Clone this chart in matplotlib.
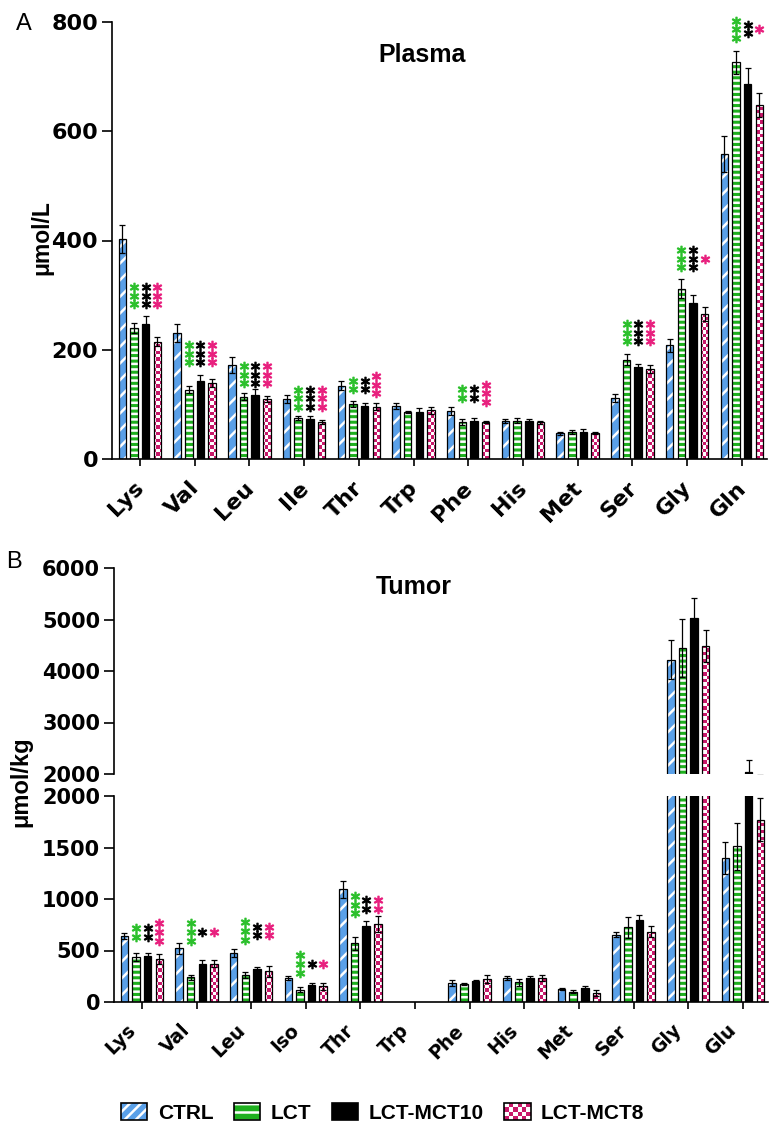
import numpy as np
import matplotlib
matplotlib.use("Agg")
import matplotlib.pyplot as plt
from matplotlib.patches import Rectangle, Patch
from matplotlib.path import Path
from matplotlib.transforms import ScaledTranslation
from matplotlib.legend_handler import HandlerBase

# ---------------- data ----------------
groups = ["CTRL", "LCT", "LCT-MCT10", "LCT-MCT8"]

plasma_aa = ["Lys", "Val", "Leu", "Ile", "Thr", "Trp", "Phe", "His", "Met", "Ser", "Gly", "Gln"]
plasma_ctrl = [403, 231, 172, 110, 134, 97, 88, 70, 47, 112, 208, 558]
plasma_ctrl_err = [26, 17, 14, 8, 8, 6, 7, 4, 3, 7, 12, 33]
plasma_lct = [240, 127, 114, 75, 101, 86, 68, 70, 49, 182, 312, 726]
plasma_lct_err = [9, 6, 6, 3, 6, 2, 5, 5, 4, 10, 18, 21]
plasma_mct10 = [248, 142, 117, 73, 97, 86, 70, 69, 50, 168, 286, 686]
plasma_mct10_err = [13, 12, 12, 6, 6, 7, 5, 4, 5, 6, 14, 30]
plasma_mct8 = [215, 139, 110, 68, 96, 89, 67, 67, 47, 165, 265, 648]
plasma_mct8_err = [9, 7, 5, 4, 6, 6, 2, 3, 2, 7, 13, 22]

plasma_stars_lct = [3, 3, 3, 3, 2, 0, 2, 0, 0, 3, 3, 3]
plasma_stars_mct10 = [3, 3, 3, 3, 2, 0, 2, 0, 0, 3, 3, 2]
plasma_stars_mct8 = [3, 3, 3, 3, 3, 0, 3, 0, 0, 3, 1, 1]
plasma_star_level = [299, 193, 154, 111, 136, 0, 120, 0, 0, 231, 367, 787]

nan = np.nan
tumor_aa = ["Lys", "Val", "Leu", "Iso", "Thr", "Trp", "Phe", "His", "Met", "Ser", "Gly", "Glu"]
tumor_ctrl = [642, 523, 474, 232, 1094, nan, 184, 232, 129, 655, 4223, 1394]
tumor_ctrl_err = [32, 54, 39, 23, 80, nan, 25, 23, 9, 22, 374, 155]
tumor_lct = [435, 238, 258, 119, 571, nan, 174, 190, 100, 726, 4448, 1513]
tumor_lct_err = [39, 26, 29, 26, 64, nan, 13, 32, 12, 103, 569, 229]
tumor_mct10 = [445, 371, 319, 161, 739, nan, 203, 232, 138, 797, 5037, 2045]
tumor_mct10_err = [30, 32, 20, 23, 48, nan, 6, 23, 20, 48, 387, 225]
tumor_mct8 = [416, 371, 300, 151, 758, nan, 222, 232, 87, 684, 4486, 1771]
tumor_mct8_err = [51, 32, 54, 33, 81, nan, 42, 32, 25, 55, 318, 212]

tumor_stars_lct = [2, 3, 3, 3, 3, 0, 0, 0, 0, 0, 0, 0]
tumor_stars_mct10 = [2, 1, 2, 1, 2, 0, 0, 0, 0, 0, 0, 0]
tumor_stars_mct8 = [3, 1, 2, 1, 2, 0, 0, 0, 0, 0, 0, 0]
tumor_star_level = [678, 678, 690, 371, 945, 0, 0, 0, 0, 0, 0, 0]

# ---------------- style ----------------
BLUE = "#5AA0E8"
GREEN = "#1FB01F"
MAGENTA = "#C8186A"
STAR_GREEN = "#2CC02C"
STAR_PINK = "#E8207E"
TICKFONT = "DejaVu Sans"
TEXTFONT = "Liberation Sans"

plt.rcParams["hatch.linewidth"] = 1.8
W, H = 778, 1137
DPI = 100
fig = plt.figure(figsize=(W / DPI, H / DPI), dpi=DPI)


def px_axes(left, top, right, bottom):
    return fig.add_axes([left / W, 1 - bottom / H, (right - left) / W, (bottom - top) / H])


ax_p = px_axes(112, 22, 767, 459)
ax_tu = px_axes(114, 568, 768, 774)
ax_tl = px_axes(114, 796, 768, 1002)

offsets = np.array([-1.5, -0.5, 0.5, 1.5]) * 0.213
BW = 0.137


def checker_image(ax, bars):
    paths = []
    for p in bars.patches:
        if not np.isfinite(p.get_height()):
            continue
        paths.append(p.get_patch_transform().transform_path(p.get_path()))
    if not paths:
        return
    bb = ax.get_position()
    wpx, hpx = bb.width * W, bb.height * H
    cell = 3.4
    nc, nr = int(round(wpx / cell)), int(round(hpx / cell))
    ii, jj = np.meshgrid(np.arange(nc), np.arange(nr))
    mask = (ii + jj) % 2 == 0
    img = np.ones((nr, nc, 3))
    img[mask] = np.array(matplotlib.colors.to_rgb(MAGENTA))
    im = ax.imshow(img, extent=(0, 1, 0, 1), transform=ax.transAxes,
                   interpolation="nearest", aspect="auto", zorder=2)
    im.set_clip_path(Path.make_compound_path(*paths), ax.transData)


def draw_bars(ax, series, errs):
    x = np.arange(len(series[0]))
    specs = [(BLUE, "//"), (GREEN, "---"), ("black", None), (MAGENTA, None)]
    for k, (vals, err) in enumerate(zip(series, errs)):
        xs = x + offsets[k]
        col, hatch = specs[k]
        face = ax.bar(xs, vals, BW, color=col, edgecolor="white", linewidth=0,
                      hatch=hatch, zorder=1.5)
        if k == 3:
            checker_image(ax, face)
        ax.bar(xs, vals, BW, fill=False, edgecolor="black", linewidth=0.9, zorder=3)
        ax.errorbar(xs, vals, yerr=err, fmt="none", ecolor="black", elinewidth=0.9,
                    capsize=2.2, capthick=0.9, zorder=4)


def draw_stars(ax, counts_list, levels, spacing_px=8.4, ms=6.0):
    colors = [STAR_GREEN, "black", STAR_PINK]
    for k, counts in enumerate(counts_list):
        for i, n in enumerate(counts):
            for s in range(n):
                dy = (s - (n - 1) / 2) * spacing_px / DPI
                tr = ax.transData + ScaledTranslation(0, dy, fig.dpi_scale_trans)
                ax.plot([i + offsets[k + 1]], [levels[i]], marker="$*$", ms=ms,
                        color=colors[k], transform=tr, clip_on=False, zorder=5,
                        linestyle="none")


def style_axis(ax, xlabels=None, ylab_size=16, xlab_size=16, shift=(-5, -7)):
    for sp in ["top", "right"]:
        ax.spines[sp].set_visible(False)
    for sp in ["left", "bottom"]:
        ax.spines[sp].set_linewidth(1.2)
    ax.tick_params(axis="y", length=7, width=1.2, direction="out", pad=3)
    ax.tick_params(axis="x", length=5, width=1.2, direction="out")
    for t in ax.get_yticklabels():
        t.set_fontfamily(TICKFONT)
        t.set_fontweight("bold")
        t.set_fontsize(ylab_size)
    ax.set_xlim(-0.51, 11.46)
    if xlabels is not None:
        ax.set_xticks(np.arange(len(xlabels)))
        ax.set_xticklabels(xlabels, rotation=45, ha="right", va="top",
                           rotation_mode="anchor", fontfamily=TICKFONT,
                           fontweight="bold", fontsize=xlab_size)
        for t in ax.get_xticklabels():
            t.set_transform(t.get_transform() + ScaledTranslation(shift[0] / DPI, shift[1] / DPI,
                                                                  fig.dpi_scale_trans))


# ---------------- Plasma ----------------
draw_bars(ax_p, [plasma_ctrl, plasma_lct, plasma_mct10, plasma_mct8],
          [plasma_ctrl_err, plasma_lct_err, plasma_mct10_err, plasma_mct8_err])
draw_stars(ax_p, [plasma_stars_lct, plasma_stars_mct10, plasma_stars_mct8], plasma_star_level)
ax_p.set_ylim(0, 800)
ax_p.set_yticks([0, 200, 400, 600, 800])
style_axis(ax_p, plasma_aa, ylab_size=16, xlab_size=16, shift=(-6, -7))
ax_p.text(0.473, 0.924, "Plasma", transform=ax_p.transAxes, ha="center", va="center",
          fontsize=18, fontweight="bold", fontfamily=TEXTFONT)

# ---------------- Tumor ----------------
tser = [tumor_ctrl, tumor_lct, tumor_mct10, tumor_mct8]
terr = [tumor_ctrl_err, tumor_lct_err, tumor_mct10_err, tumor_mct8_err]
for ax in (ax_tu, ax_tl):
    draw_bars(ax, tser, terr)
draw_stars(ax_tl, [tumor_stars_lct, tumor_stars_mct10, tumor_stars_mct8], tumor_star_level,
           spacing_px=8.8)
ax_tl.set_ylim(0, 2000)
ax_tl.set_yticks([0, 500, 1000, 1500, 2000])
style_axis(ax_tl, tumor_aa, ylab_size=15, xlab_size=13.5, shift=(-16, -7))
ax_tu.set_ylim(2000, 6000)
ax_tu.set_yticks([2000, 3000, 4000, 5000, 6000])
style_axis(ax_tu, None, ylab_size=15)
ax_tu.spines["bottom"].set_visible(False)
ax_tu.set_xticks([])
ax_tu.text(0.459, 0.906, "Tumor", transform=ax_tu.transAxes, ha="center", va="center",
           fontsize=18, fontweight="bold", fontfamily=TEXTFONT)

# ---------------- labels ----------------
fig.text(42 / W, 1 - 238 / H, "μmol/L", rotation=90, ha="center", va="center",
         fontsize=16.5, fontweight="bold", fontfamily=TEXTFONT)
fig.text(21 / W, 1 - 782 / H, "μmol/kg", rotation=90, ha="center", va="center",
         fontsize=17, fontweight="bold", fontfamily=TEXTFONT)
fig.text(24 / W, 1 - 24 / H, "A", ha="center", va="center", fontsize=17, fontfamily=TEXTFONT)
fig.text(14 / W, 1 - 562 / H, "B", ha="center", va="center", fontsize=17, fontfamily=TEXTFONT)


# ---------------- legend ----------------
class PatternHandler(HandlerBase):
    def __init__(self, kind):
        super().__init__()
        self.kind = kind

    def create_artists(self, legend, orig_handle, xdescent, ydescent, width, height,
                       fontsize, trans):
        x0, y0 = -xdescent, -ydescent
        arts = []
        if self.kind == "ctrl":
            arts.append(Rectangle((x0, y0), width, height, facecolor=BLUE,
                                  edgecolor="white", hatch="///", linewidth=0))
        elif self.kind == "lct":
            arts.append(Rectangle((x0, y0), width, height, facecolor=GREEN,
                                  edgecolor="white", hatch="--", linewidth=0))
        elif self.kind == "mct10":
            arts.append(Rectangle((x0, y0), width, height, facecolor="black", linewidth=0))
        else:
            nx, ny = 6, 4
            cw, ch = width / nx, height / ny
            arts.append(Rectangle((x0, y0), width, height, facecolor="white", linewidth=0))
            for i in range(nx):
                for j in range(ny):
                    if (i + j) % 2 == 0:
                        arts.append(Rectangle((x0 + i * cw, y0 + j * ch), cw, ch,
                                              facecolor=MAGENTA, linewidth=0))
        arts.append(Rectangle((x0, y0), width, height, fill=False, edgecolor="black",
                              linewidth=1.2))
        for a in arts:
            a.set_transform(trans)
        return arts


handles = [Patch(label=g) for g in groups]
kinds = ["ctrl", "lct", "mct10", "mct8"]
leg = fig.legend(handles, groups, loc="center", bbox_to_anchor=(0.492, 1 - 1113 / H),
                 ncol=4, frameon=False, handlelength=1.25, handleheight=0.85,
                 handletextpad=0.5, columnspacing=1.0,
                 handler_map={h: PatternHandler(k) for h, k in zip(handles, kinds)},
                 prop={"family": TEXTFONT, "weight": "bold", "size": 15})

fig.savefig("out.png", dpi=DPI)
